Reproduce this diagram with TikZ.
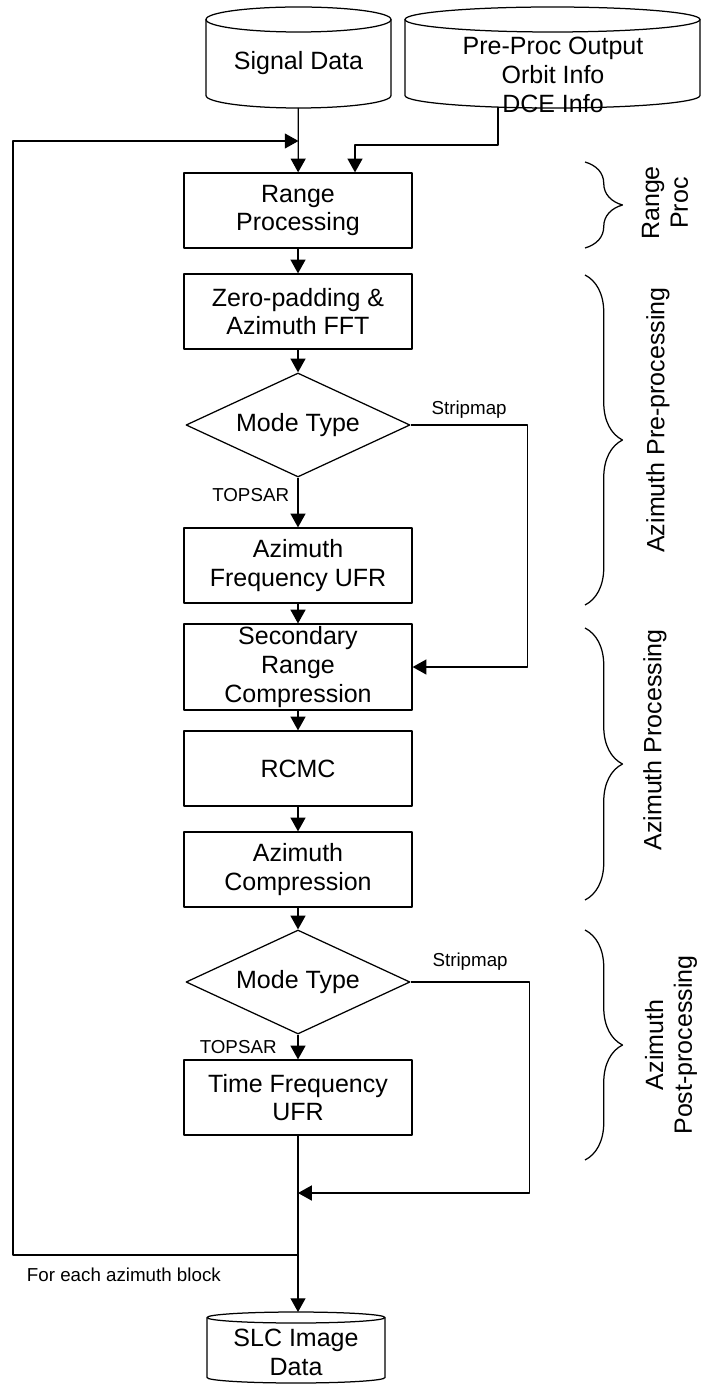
\documentclass[tikz,border=0pt]{standalone}
\usepackage{fontspec}
\setmainfont{Liberation Sans}
\usetikzlibrary{shapes.geometric,arrows.meta,decorations.pathreplacing}

\tikzset{
  box/.style={draw, minimum width=91.2pt, minimum height=30pt, align=center, inner sep=1pt},
  dec/.style={diamond, draw, minimum width=89.6pt, minimum height=41.6pt, aspect=2.15, inner sep=0pt},
  db/.style={inner sep=0pt, outer sep=0pt},
  lbl/.style={font=\fontsize{7.5}{9}\selectfont},
  brc/.style={decorate, decoration={brace, amplitude=15pt}},
  side/.style={rotate=90, align=center},
}
% drum outline round a named node: node, x radius, y radius
\newcommand\drum[3]{%
  \draw ([yshift=-#3]#1.north) ellipse [x radius=#2, y radius=#3];
  \draw ([yshift=-#3]#1.north west) -- ([yshift=#3]#1.south west)
    arc [start angle=180, end angle=360, x radius=#2, y radius=#3] -- ([yshift=-#3]#1.north east);
}

\begin{document}
\begin{tikzpicture}[x=0.4pt,y=-0.4pt,>={Triangle[length=5.5pt,width=6pt]},line join=round,line width=0.5pt,font=\fontsize{10}{11.5}\selectfont]
	\useasboundingbox (0,0) rectangle (700,1384);
	% data stores
	\node[db, minimum width=74pt, minimum height=40.4pt] (sig) at (298.5,57.5) {};
	\node[db, minimum width=118pt, minimum height=40.4pt] (pre) at (552.5,57.5) {};
	\node[db, minimum width=71.2pt, minimum height=28.4pt] (slc) at (296,1347.5) {};
	\drum{sig}{37pt}{5pt}
	\drum{pre}{59pt}{5pt}
	\drum{slc}{35.6pt}{2.2pt}
	\node (sigtxt) at (298.5,63) {Signal Data};
	\node[align=center] (pretxt) at (553,75) {Pre-Proc Output\\Orbit Info\\DCE Info};
	\node[align=center] (slctxt) at (296,1352.5) {SLC Image\\Data};
	% processing chain
	\node[box] (range) at (298,210.5) {Range\\Processing};
	\node[box] (zpad) at (298,311.5) {Zero-padding \&\\Azimuth FFT};
	\node[dec] (mode1) at (298,425) {Mode Type};
	\node[box] (azfreq) at (298,565.5) {Azimuth\\Frequency UFR};
	\node[box] (src) at (298,667) {Secondary\\Range\\Compression};
	\node[box] (rcmc) at (298,768.5) {RCMC};
	\node[box] (azc) at (298,869.5) {Azimuth\\Compression};
	\node[dec] (mode2) at (298,982) {Mode Type};
	\node[box] (tf) at (298,1097.5) {Time Frequency\\UFR};
	\coordinate (preout) at (498,107);
	\coordinate (preknee) at (355,145);
	\coordinate (merge) at (298,1193);
	\coordinate (loop) at (298,1255);
	\coordinate (loopL) at (13,1255);
	\coordinate (loopT) at (13,141);
	% arrows
	\draw[->] (sig) -- (range);
	\draw[->] (preout) |- (preknee) -- (preknee |- range.north);
	\foreach \a/\b in {range/zpad,zpad/mode1,azfreq/src,src/rcmc,rcmc/azc,azc/mode2}
	\draw[->] (\a) -- (\b);
	\draw[->] (mode1) -- node[lbl,left,pos=0.35]{TOPSAR} (azfreq);
	\draw[->] (mode2) -- node[lbl,left,xshift=-5pt]{TOPSAR} (tf);
	\draw[->] (mode1.east) -- node[lbl,above,yshift=-1pt]{Stripmap} ++(117,0) |- (src.east);
	\draw[->] (mode2.east) -- node[lbl,above,yshift=1.2pt]{Stripmap} ++(119,0) |- (merge);
	\draw[->] (tf) -- (tf |- slc.north);
	\draw[->] (loop) -- (loopL) -- (loopT) -- (loopT -| sig.south);
	\node[lbl,right] (each) at (18,1275) {For each azimuth block};
	% braces
	\draw[brc] (585,162) -- (585,248);
	\draw[brc] (585,275) -- (585,605);
	\draw[brc] (585,628) -- (585,900);
	\draw[brc] (585,930) -- (585,1160);
	\node[side] (rproc) at (665,203) {Range\\Proc};
	\node[side] (azpre) at (658,420) {Azimuth Pre-processing};
	\node[side] (azproc) at (655,740) {Azimuth Processing};
	\node[side] (azpost) at (671,1045) {Azimuth\\Post-processing};
\end{tikzpicture}
\end{document}
